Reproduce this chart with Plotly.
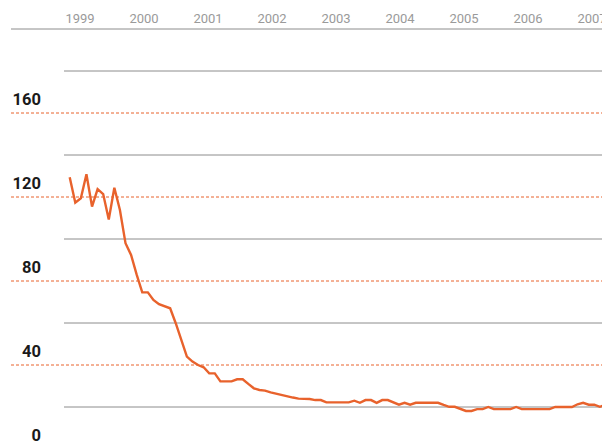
import plotly.graph_objects as go

# ---- data ----
years = list(range(1999, 2008))
year_labels = [str(y) for y in years]

values = [
    129.4, 117.3, 119.4, 130.8, 115.4, 123.8, 121.4, 109.3, 124.4, 113.8,
    98.0, 92.4, 83.0, 74.6, 74.6, 71.0, 69.0, 68.1, 67.0, 59.9,
    51.9, 44.0, 41.6, 40.0, 38.9, 36.0, 36.0, 32.2, 32.2, 32.2,
    33.2, 33.2, 31.0, 28.9, 28.1, 27.8, 27.0, 26.3, 25.8, 25.2,
    24.5, 24.0, 24.0, 23.8, 23.3, 23.3, 22.2, 22.2, 22.2, 22.2,
    22.2, 23.0, 22.0, 23.3, 23.3, 22.0, 23.3, 23.3, 22.3, 21.1,
    22.0, 21.1, 22.0, 22.0, 22.0, 22.0, 22.0, 21.0, 20.1, 20.1,
    19.0, 18.1, 18.1, 19.0, 19.0, 20.0, 19.0, 19.0, 19.0, 19.0,
    20.0, 19.0, 19.0, 19.0, 19.0, 19.0, 19.0, 20.0, 20.0, 20.0,
    20.0, 21.3, 22.0, 21.1, 21.1, 20.1, 21.1,
]

y_labels = [0, 40, 80, 120, 160]
dashed_levels = [40, 80, 120, 160]
solid_levels = [20, 60, 100, 140, 180]
top_level = 200

# ---- geometry / style ----
PAGE_MARGIN = 8            # default body margin of the written page
W, H = 610 - PAGE_MARGIN, 446 - PAGE_MARGIN
TOP = 29 - PAGE_MARGIN
PX_PER_UNIT = 2.1
PX_PER_YEAR = 64.0
START = 1999.339
STEP = 0.0872
periods = [START + i * STEP for i in range(len(values))]

y_max = top_level
y_min = y_max - (H - TOP) / PX_PER_UNIT
label_shift = 13.5 / PX_PER_UNIT
first_label_px = 80 - PAGE_MARGIN
x_min = 1999.5 - first_label_px / PX_PER_YEAR
x_max = 1999.5 + (W - first_label_px) / PX_PER_YEAR

ORANGE = "#E8622C"
GRAY = "#8c8c8c"

fig = go.Figure()
fig.add_trace(go.Scatter(
    x=periods, y=values, mode="lines",
    line=dict(color=ORANGE, width=2.4),
    hoverinfo="skip", showlegend=False,
))
# carrier for the (vertically offset) value-label axis
fig.add_trace(go.Scatter(
    x=periods[:1], y=[y_labels[0]], mode="lines", yaxis="y2",
    hoverinfo="skip", showlegend=False,
))

shapes = []
for lv in solid_levels:
    shapes.append(dict(type="line", xref="paper", yref="y",
                       x0=(64 - PAGE_MARGIN) / W, x1=1, y0=lv, y1=lv,
                       line=dict(color=GRAY, width=1), layer="below"))
for lv in dashed_levels:
    shapes.append(dict(type="line", xref="paper", yref="y",
                       x0=(11 - PAGE_MARGIN) / W, x1=1, y0=lv, y1=lv,
                       line=dict(color=ORANGE, width=1, dash="3px,2px"),
                       layer="below"))
shapes.append(dict(type="line", xref="paper", yref="paper",
                   x0=(11 - PAGE_MARGIN) / W, x1=1, y0=1, y1=1,
                   line=dict(color=GRAY, width=1), layer="below"))

fig.update_layout(
    width=W, height=H,
    margin=dict(l=0, r=0, t=TOP, b=0, pad=0),
    paper_bgcolor="white", plot_bgcolor="white",
    showlegend=False,
    shapes=shapes,
    xaxis=dict(
        range=[x_min, x_max], side="top",
        tickvals=[y + 0.5 for y in years], ticktext=year_labels,
        ticks="", showgrid=False, zeroline=False, showline=False,
        ticklabelstandoff=2,
        tickfont=dict(family="Roboto", size=13, color="#9a9a9a"),
        fixedrange=True,
    ),
    yaxis=dict(
        range=[y_min, y_max], showticklabels=False, ticks="",
        showgrid=False, zeroline=False, showline=False, fixedrange=True,
    ),
    yaxis2=dict(
        overlaying="y", anchor="free", position=(41 - PAGE_MARGIN) / W,
        side="left",
        range=[y_min - label_shift, y_max - label_shift],
        tickvals=y_labels, ticktext=[str(v) for v in y_labels],
        ticks="", showgrid=False, zeroline=False, showline=False,
        tickfont=dict(family="Roboto", size=16.5, color="#1a1a1a", weight=700),
        fixedrange=True,
    ),
)

fig.write_html("out.html")
